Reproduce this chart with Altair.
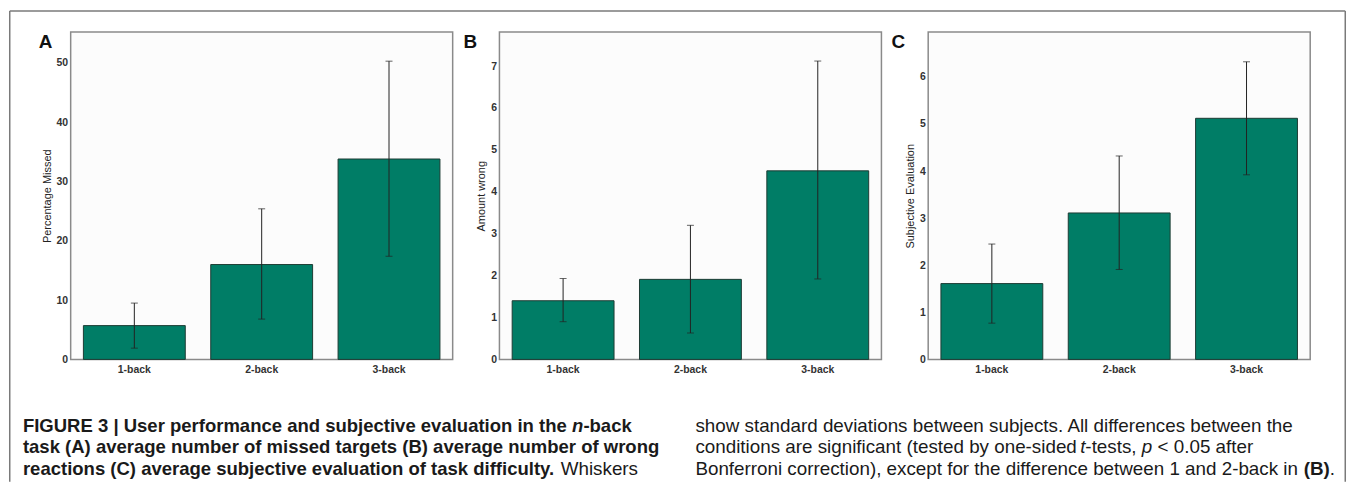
import altair as alt
import pandas as pd

FONT = "Liberation Sans"
GREEN = "#007d66"

conditions = ["1-back", "2-back", "3-back"]

missed_mean = [5.7, 16.0, 33.8]
missed_lo = [1.9, 6.8, 17.4]
missed_hi = [9.5, 25.4, 50.3]

wrong_mean = [1.40, 1.91, 4.50]
wrong_lo = [0.90, 0.63, 1.92]
wrong_hi = [1.93, 3.20, 7.12]

subj_mean = [1.61, 3.11, 5.12]
subj_lo = [0.77, 1.91, 3.92]
subj_hi = [2.45, 4.32, 6.32]

panel_letters = ["A", "B", "C"]
y_titles = ["Percentage Missed", "Amount wrong", "Subjective Evaluation"]
y_max = [55.2, 7.81, 6.95]
y_ticks = [[0, 10, 20, 30, 40, 50], [0, 1, 2, 3, 4, 5, 6, 7], [0, 1, 2, 3, 4, 5, 6]]

caption_left_1 = "FIGURE 3 | User performance and subjective evaluation in the"
caption_left_1_it = "n"
caption_left_1_end = "-back"
caption_left_2 = "task (A) average number of missed targets (B) average number of wrong"
caption_left_3 = "reactions (C) average subjective evaluation of task difficulty."
caption_left_3_reg = "Whiskers"
caption_right_1 = "show standard deviations between subjects. All differences between the"
caption_right_2 = ["conditions are significant (tested by one-sided", "t", "-tests,", "p", "< 0.05 after"]
caption_right_3 = ["Bonferroni correction), except for the difference between 1 and 2-back in", "(B)", "."]

PW, PH = 384, 329
OX, OY = 70, 30  # page position of panel A's plot origin


def seg(text, px, py, bold=False, italic=False, size=18.6):
    return alt.Chart(pd.DataFrame({"t": [text]})).mark_text(
        align="left", baseline="alphabetic", font=FONT, fontSize=size,
        fontWeight="bold" if bold else "normal",
        fontStyle="italic" if italic else "normal", color="#1a1a1a").encode(
        text="t:N", x=alt.value(px - OX), y=alt.value(py - OY))


def panel(mean, lo, hi, letter, ytitle, ymax, ticks, letter_dx, extra=()):
    df = pd.DataFrame({"cond": conditions, "mean": mean, "lo": lo, "hi": hi})
    base = alt.Chart(df)
    x = alt.X(
        "cond:N", sort=conditions, title=None,
        scale=alt.Scale(paddingInner=0.2, paddingOuter=0.1),
        axis=alt.Axis(labelAngle=0, labelFont=FONT, labelFontSize=10.5,
                      labelFontWeight="bold", labelColor="#333", labelPadding=5,
                      ticks=False, domain=False),
    )
    yscale = alt.Scale(domain=[0, ymax], nice=False, zero=True)
    yaxis = alt.Axis(values=ticks, grid=False, ticks=False, domain=False,
                     labelFont=FONT, labelFontSize=10.5, labelFontWeight="bold",
                     labelColor="#333", labelPadding=3,
                     titleFont=FONT, titleFontSize=11, titleFontWeight="normal",
                     titleColor="#222", titlePadding=4)
    bars = base.mark_bar(color=GREEN, stroke="#1d3b33", strokeWidth=1).encode(
        x=x, y=alt.Y("mean:Q", scale=yscale, axis=yaxis, title=ytitle))
    rule = base.mark_rule(color="#222", strokeWidth=1).encode(
        x=x, y=alt.Y("lo:Q", scale=yscale, axis=yaxis, title=ytitle), y2="hi:Q")
    cap_lo = base.mark_tick(color="#222", thickness=1, size=7).encode(
        x=x, y=alt.Y("lo:Q", scale=yscale, axis=yaxis, title=ytitle))
    cap_hi = base.mark_tick(color="#222", thickness=1, size=7).encode(
        x=x, y=alt.Y("hi:Q", scale=yscale, axis=yaxis, title=ytitle))
    let = alt.Chart(pd.DataFrame({"t": [letter]})).mark_text(
        align="left", baseline="alphabetic", font=FONT, fontSize=19,
        fontWeight="bold", color="#111").encode(
        text="t:N", x=alt.value(letter_dx), y=alt.value(16))
    return alt.layer(bars, rule, cap_lo, cap_hi, let, *extra).properties(
        width=PW, height=PH,
        view=alt.ViewBackground(stroke="#8a8a8a", strokeWidth=1.5, fill="#fcfcfc"))


B1, B2, B3 = 432, 453, 475
RS = 18.9
segs = [
    seg(caption_left_1, 22, B1, bold=True),
    seg(caption_left_1_it, 574, B1, bold=True, italic=True),
    seg(caption_left_1_end, 585.4, B1, bold=True),
    seg(caption_left_2, 22, B2, bold=True),
    seg(caption_left_3, 22, B3, bold=True),
    seg(caption_left_3_reg, 562.6, B3, size=RS),
    seg(caption_right_1, 698, B1, size=RS),
    seg(caption_right_2[0], 698, B2, size=RS),
    seg(caption_right_2[1], 1084.8, B2, italic=True, size=RS),
    seg(caption_right_2[2], 1090.0, B2, size=RS),
    seg(caption_right_2[3], 1146.8, B2, italic=True, size=RS),
    seg(caption_right_2[4], 1162.6, B2, size=RS),
    seg(caption_right_3[0], 698, B3, size=RS),
    seg(caption_right_3[1], 1309.4, B3, bold=True, size=RS),
    seg(caption_right_3[2], 1335.6, B3, size=RS),
]

dummy = pd.DataFrame({"k": [0]})
FR = "#7a7a7a"
frame = [
    alt.Chart(dummy).mark_rule(color=FR, strokeWidth=1.5).encode(
        x=alt.value(8.75 - OX), y=alt.value(8.75 - OY), y2=alt.value(482 - OY)),
    alt.Chart(dummy).mark_rule(color=FR, strokeWidth=1.5).encode(
        x=alt.value(8.75 - OX), x2=alt.value(1351.25 - OX), y=alt.value(8.75 - OY)),
    alt.Chart(dummy).mark_rule(color=FR, strokeWidth=1.5).encode(
        x=alt.value(1351.25 - OX), y=alt.value(8.75 - OY), y2=alt.value(482 - OY)),
]

pA = panel(missed_mean, missed_lo, missed_hi, panel_letters[0], y_titles[0], y_max[0],
           y_ticks[0], -32, extra=segs + frame)
pB = panel(wrong_mean, wrong_lo, wrong_hi, panel_letters[1], y_titles[1], y_max[1], y_ticks[1], -36)
pC = panel(subj_mean, subj_lo, subj_hi, panel_letters[2], y_titles[2], y_max[2], y_ticks[2], -37)

chart = alt.hconcat(pA, pB, pC, spacing=47, bounds="flush").properties(
    padding=0, background="white")

chart.save("out.html", embed_options={"renderer": "svg", "actions": False})
